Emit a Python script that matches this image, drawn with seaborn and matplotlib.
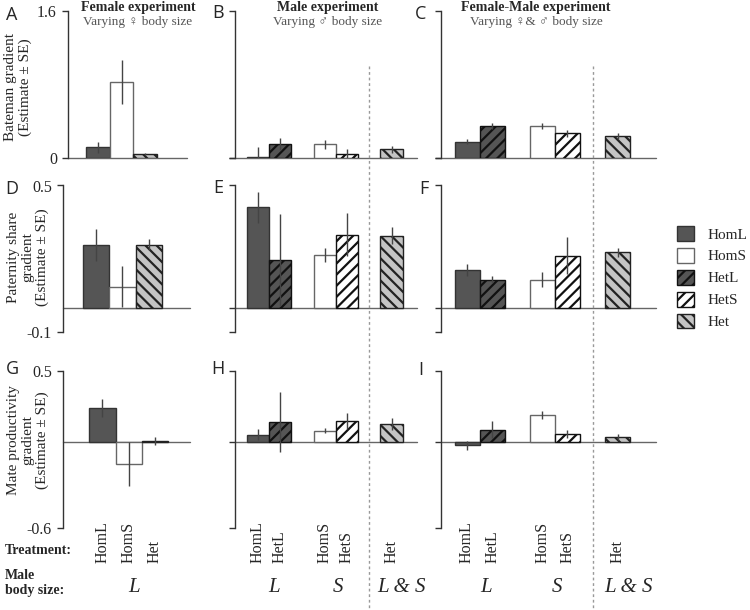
import pandas as pd
import matplotlib
matplotlib.use("Agg")
import matplotlib.pyplot as plt
import matplotlib.transforms as mtransforms
from matplotlib.lines import Line2D
from matplotlib.patches import Patch
import seaborn as sns

# --- Data (gradient estimates and SE) ---
cats_f = ["HomL", "HomS", "Het"]
cats_m = ["HomL", "HetL", "HomS", "HetS", "Het"]

bateman_f = [0.11, 0.82, 0.04]
bateman_f_se = [0.06, 0.24, 0.01]
bateman_m = [0.005, 0.143, 0.143, 0.033, 0.088]
bateman_m_se = [0.11, 0.066, 0.045, 0.055, 0.04]
bateman_fm = [0.172, 0.347, 0.347, 0.264, 0.237]
bateman_fm_se = [0.028, 0.033, 0.033, 0.036, 0.033]

paternity_f = [0.257, 0.085, 0.257]
paternity_f_se = [0.065, 0.084, 0.023]
paternity_m = [0.41, 0.195, 0.215, 0.298, 0.294]
paternity_m_se = [0.064, 0.19, 0.03, 0.088, 0.035]
paternity_fm = [0.154, 0.115, 0.115, 0.213, 0.226]
paternity_fm_se = [0.024, 0.016, 0.03, 0.075, 0.02]

productivity_f = [0.239, -0.151, 0.01]
productivity_f_se = [0.063, 0.154, 0.025]
productivity_m = [0.054, 0.14, 0.083, 0.149, 0.13]
productivity_m_se = [0.04, 0.21, 0.02, 0.055, 0.04]
productivity_fm = [-0.02, 0.088, 0.193, 0.06, 0.04]
productivity_fm_se = [0.03, 0.06, 0.03, 0.03, 0.02]

row_ylims = [(0, 1.6), (-0.1, 0.5), (-0.6, 0.5)]
row_ticklabels = [("0", "1.6"), ("-0.1", "0.5"), ("-0.6", "0.5")]
row_ylabels = ["Bateman gradient\n(Estimate \u00b1 SE)",
               "Paternity share\ngradient\n(Estimate \u00b1 SE)",
               "Mate productivity\ngradient\n(Estimate \u00b1 SE)"]

# bar slots (gaps separate the L / S / L & S groups)
slots_f = ["HomL", "HomS", "Het"]
slots_m = ["HomL", "HetL", "gap1", "HomS", "HetS", "gap2", "Het"]

fill = {"HomL": "#555555", "HomS": "white", "HetL": "#555555", "HetS": "white", "Het": "#c4c4c4"}
edge = {"HomL": "#333333", "HomS": "#666666", "HetL": "#111111", "HetS": "#111111", "Het": "#222222"}
hatch = {"HomL": "", "HomS": "", "HetL": "///", "HetS": "///", "Het": "\\\\\\"}

# --- Style ---
sns.set_theme(style="ticks")
plt.rcParams["font.family"] = ["Liberation Serif", "DejaVu Sans"]
plt.rcParams["hatch.linewidth"] = 1.6
plt.rcParams["axes.linewidth"] = 1.0

W, H = 750, 610
fig = plt.figure(figsize=(7.5, 6.1), dpi=100)


def px_axes(left, right, top, bottom):
    return fig.add_axes([left / W, 1 - bottom / H, (right - left) / W, (bottom - top) / H])


row_px = [(11, 157.5), (185.5, 332), (371, 528)]
col1_px = [(68, 187, (-1.26, 3.76)), (63, 190, (-1.26, 3.57)), (63, 190, (-1.5, 3.33))]
col2_px = (235, 417, (-1.02, 7.14))
col3_px = (441, 656, (-1.04, 7.53))

panels = [
    ("A", 0, 0, cats_f, slots_f, bateman_f, bateman_f_se),
    ("B", 0, 1, cats_m, slots_m, bateman_m, bateman_m_se),
    ("C", 0, 2, cats_m, slots_m, bateman_fm, bateman_fm_se),
    ("D", 1, 0, cats_f, slots_f, paternity_f, paternity_f_se),
    ("E", 1, 1, cats_m, slots_m, paternity_m, paternity_m_se),
    ("F", 1, 2, cats_m, slots_m, paternity_fm, paternity_fm_se),
    ("G", 2, 0, cats_f, slots_f, productivity_f, productivity_f_se),
    ("H", 2, 1, cats_m, slots_m, productivity_m, productivity_m_se),
    ("I", 2, 2, cats_m, slots_m, productivity_fm, productivity_fm_se),
]

axes = {}
for letter, row, col, cats, slots, est, se in panels:
    if col == 0:
        left, right, xlim = col1_px[row]
    elif col == 1:
        left, right, xlim = col2_px
    else:
        left, right, xlim = col3_px
    top, bottom = row_px[row]
    ax = px_axes(left, right, top, bottom)
    axes[letter] = ax

    df = pd.DataFrame({"treatment": cats, "estimate": est})
    sns.barplot(data=df, x="treatment", y="estimate", order=slots, hue="treatment",
                palette=fill, width=1, saturation=1, errorbar=None, legend=False, ax=ax)
    for p in ax.patches:
        t = slots[int(round(p.get_x() + p.get_width() / 2))]
        p.set_edgecolor(edge[t])
        p.set_hatch(hatch[t])
        p.set_linewidth(1.0)
        p.set_zorder(3)

    xpos = [slots.index(c) for c in cats]
    ax.errorbar(xpos, est, yerr=se, fmt="none", ecolor="#444444", elinewidth=1, capsize=0, zorder=4)
    ax.axhline(0, color="#666666", lw=1, zorder=1, clip_on=False)

    lo, hi = row_ylims[row]
    ax.set_ylim(lo, hi)
    ax.set_xlim(*xlim)
    ax.set_xlabel("")
    ax.set_ylabel("")
    ax.set_xticks([])
    for s in ["top", "right", "bottom"]:
        ax.spines[s].set_visible(False)
    ax.spines["left"].set_color("#333333")
    if col == 0:
        ax.set_yticks([lo, hi])
        ax.set_yticklabels(row_ticklabels[row])
    else:
        ax.set_yticks([lo, 0, hi])
        ax.set_yticklabels(["", "", ""])
    ax.tick_params(axis="y", length=4, width=1, color="#333333", pad=4, labelsize=11.5)

    # treatment labels and male body size under the bottom row
    if row == 2:
        trans = mtransforms.blended_transform_factory(ax.transData, fig.transFigure)
        for c in cats:
            ax.text(slots.index(c), 1 - 563 / H, c, transform=trans, rotation=90,
                    ha="center", va="bottom", fontsize=11.5)
        groups = [("L", 1.2)] if col == 0 else [("L", 0.75), ("S", 3.6), ("L & S", 6.45)]
        for g, gx in groups:
            ax.text(gx, 1 - 587 / H, g, transform=trans, ha="center", va="center",
                    fontsize=15, style="italic")

# panel letters
letter_pos = {"A": (12, 15), "B": (218, 13), "C": (421, 14),
              "D": (12, 189), "E": (218, 188), "F": (424, 189),
              "G": (12, 369), "H": (218, 369), "I": (421, 370)}
for letter, (x, y) in letter_pos.items():
    fig.text(x / W, 1 - y / H, letter, ha="center", va="center", fontsize=13, family="Open Sans")

# column titles
titles = [(138, "Female experiment", "Varying \u2640 body size"),
          (328, "Male experiment", "Varying \u2642 body size"),
          (536, "Female-Male experiment", "Varying \u2640& \u2642 body size")]
for x, t, sub in titles:
    fig.text(x / W, 1 - 7 / H, t, ha="center", va="center", fontsize=10, weight="bold")
    fig.text(x / W, 1 - 22 / H, sub, ha="center", va="center", fontsize=9.5, color="#555555")

# row y labels
for (x, y), lab in zip([(18, 87), (28, 257), (28, 440)], row_ylabels):
    fig.text(x / W, 1 - y / H, lab, rotation=90, ha="center", va="center",
             fontsize=11, linespacing=1.1, multialignment="center")

fig.text(5 / W, 1 - 551 / H, "Treatment:", ha="left", va="center", fontsize=10, weight="bold")
fig.text(5 / W, 1 - 583 / H, "Male\nbody size:", ha="left", va="center", fontsize=10,
         weight="bold", linespacing=1.2)

# dashed separators running through the whole column
for letter in ["B", "C"]:
    ax = axes[letter]
    xf = fig.transFigure.inverted().transform(ax.transData.transform((5, 0)))[0]
    fig.add_artist(Line2D([xf, xf], [1 - 66 / H, 0], color="#999999", lw=1,
                          linestyle=(0, (2, 2)), transform=fig.transFigure))

# legend
handles = [Patch(facecolor=fill[t], edgecolor=edge[t], hatch=hatch[t], label=t)
           for t in ["HomL", "HomS", "HetL", "HetS", "Het"]]
fig.legend(handles=handles, loc="upper left", bbox_to_anchor=(677 / W, 1 - 226 / H),
           frameon=False, fontsize=11, handlelength=1.1, handleheight=1.1,
           handletextpad=0.9, labelspacing=0.42, borderaxespad=0, borderpad=0)

fig.savefig("out.png", dpi=100)
